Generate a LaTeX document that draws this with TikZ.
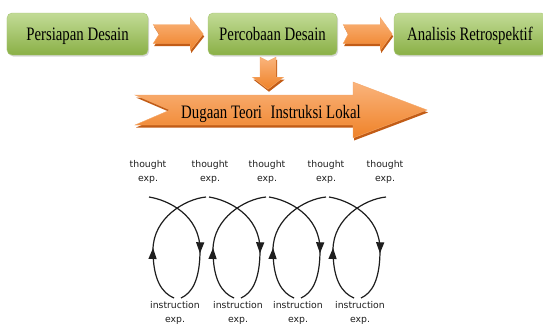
\documentclass[tikz,border=0pt]{standalone}
\usepackage{fontspec}
\usepackage{tikz}
\usetikzlibrary{arrows.meta,calc,shadows,decorations.markings}
\definecolor{GreenTop}{HTML}{C2DB96}
\definecolor{GreenBot}{HTML}{8AB046}
\definecolor{GreenLine}{HTML}{A8C777}
\definecolor{OrangeTop}{HTML}{FAB47C}
\definecolor{OrangeBot}{HTML}{EF8228}
\definecolor{OrangeDark}{HTML}{C25C16}
\definecolor{LoopInk}{HTML}{1E1E1E}
\newfontfamily\stagefont[FakeStretch=0.78]{Liberation Serif}
\newfontfamily\loopfont{DejaVu Sans}

\tikzset{
  stage/.style={draw=GreenLine,rounded corners=5bp,top color=GreenTop,bottom color=GreenBot,
    minimum height=42bp,inner sep=0pt,text height=12.6bp,text depth=0bp,
    font=\stagefont\fontsize{19bp}{20bp}\selectfont,
    drop shadow={opacity=0.3,shadow xshift=1.2bp,shadow yshift=-1.5bp}},
  arrowbody/.style={top color=OrangeTop,bottom color=OrangeBot,draw=OrangeBot!70!white,line width=0.4bp,
    drop shadow={fill=OrangeDark,opacity=1,shadow xshift=1bp,shadow yshift=-2.5bp}},
  looplab/.style={align=center,inner sep=0pt,text=LoopInk,font=\loopfont\fontsize{9.3bp}{14bp}\selectfont},
  loopline/.style={LoopInk,line width=1.2bp,postaction={decorate}},
  % length / body half / head half / head length / notch
  pics/notcharrow/.style n args={5}{code={
    \path[arrowbody] (0,-#2) -- (#1-#4,-#2) -- (#1-#4,-#3) -- (#1,0) -- (#1-#4,#3)
      -- (#1-#4,#2) -- (0,#2) -- (#5,0) -- cycle;
  }},
}

\begin{document}
\begin{tikzpicture}[x=1bp,y=-1bp,>={Triangle[length=11bp,width=8bp]}]
 \path[fill=white,use as bounding box] (0,0) rectangle (543,327);
 % stages
 \node[stage,minimum width=141bp] (persiapan) at (77.5,34) {Persiapan Desain};
 \node[stage,minimum width=129bp] (percobaan) at (272.5,34) {Percobaan Desain};
 \node[stage,minimum width=152bp] (analisis) at (470,34) {Analisis Retrospektif};
 % flow arrows
 \pic at ($(persiapan.east)+(5,0)$) {notcharrow={50}{9.5}{16.5}{13}{6}};
 \pic at ($(percobaan.east)+(6,0)$) {notcharrow={49}{9.5}{16.5}{12}{5}};
 \pic[rotate=-90] at ($(percobaan.south)+(-4.5,2)$) {notcharrow={32}{8}{15.5}{12}{4}};
 % big arrow
 \pic at (135,110) {notcharrow={292}{15}{28}{74}{35}};
 \node[anchor=base,inner sep=0pt,font=\stagefont\fontsize{19bp}{20bp}\selectfont] (dugaan) at (271,118)
   {Dugaan Teori\hspace{0.45em}Instruksi Lokal};
 % labels
 \foreach \x [count=\k] in {148,210,267,326,385}{
   \node[looplab] (thought\k) at (\x,172.1) {thought\\exp.};}
 \foreach \x [count=\k] in {175,238,298,360}{
   \node[looplab] (instr\k) at (\x,313.1) {instruction\\exp.};}
 % loops
 \foreach \i in {0,...,3}{
  \begin{scope}[shift={(60*\i,0)}]
   \draw[loopline,decoration={markings,mark=at position 0.62 with {\arrow{>}}}]
     (149,197) .. controls (168,200) and (200,215) .. (200,250) .. controls (200,280) and (192,293) .. (181,298);
   \draw[loopline,decoration={markings,mark=at position 0.42 with {\arrow{>}}}]
     (174,298) .. controls (162,293) and (153,280) .. (153,250) .. controls (153,218) and (185,199) .. (206,197);
  \end{scope}}
\end{tikzpicture}
\end{document}
